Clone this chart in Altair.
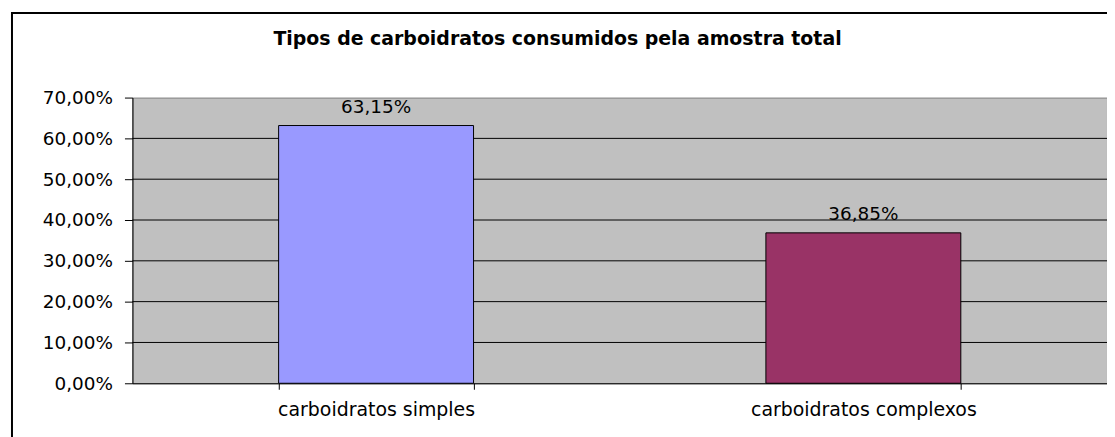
import altair as alt
import pandas as pd

categories = ["carboidratos simples", "carboidratos complexos"]
values = [0.6315, 0.3685]
bar_colors = ["#9999FF", "#993366"]
grid_values = [0.1, 0.2, 0.3, 0.4, 0.5, 0.6]
y_ticks = [0.0, 0.1, 0.2, 0.3, 0.4, 0.5, 0.6, 0.7]
title_text = "Tipos de carboidratos consumidos pela amostra total"

W, H = 979, 287
FONT = "DejaVu Sans"

df = pd.DataFrame({"cat": categories, "val": values})
grid_df = pd.DataFrame({"g": grid_values})

x_enc = alt.X(
    "cat:N",
    sort=categories,
    scale=alt.Scale(paddingInner=0.6, paddingOuter=0.3),
    axis=alt.Axis(
        title=None, labelAngle=0, tickBand="extent", tickSize=6,
        tickColor="black", domainColor="black", labelFont=FONT,
        labelFontSize=19, labelColor="black", labelPadding=11, labelLimit=0,
    ),
)
y_enc = alt.Y(
    "val:Q",
    scale=alt.Scale(domain=[0, 0.7], nice=False),
    axis=alt.Axis(
        title=None, values=y_ticks, grid=False, tickSize=8,
        tickColor="black", domainColor="black", labelFont=FONT,
        labelFontSize=18.5, labelColor="black", labelPadding=12,
        labelExpr="replace(format(datum.value, '.2%'), '.', ',')",
    ),
)

grid = alt.Chart(grid_df).mark_rule(color="black", strokeWidth=1).encode(
    y=alt.Y("g:Q", scale=alt.Scale(domain=[0, 0.7], nice=False))
)

bars = alt.Chart(df).mark_bar(stroke="black", strokeWidth=1).encode(
    x=x_enc,
    y=y_enc,
    color=alt.Color("cat:N", scale=alt.Scale(domain=categories, range=bar_colors), legend=None),
)

labels = alt.Chart(df).transform_calculate(
    lbl="replace(format(datum.val, '.2%'), '.', ',')"
).mark_text(
    font=FONT, fontSize=18.5, color="black", baseline="bottom", dy=-9
).encode(
    x=alt.X("cat:N", sort=categories),
    y=alt.Y("val:Q"),
    text="lbl:N",
)

title = alt.Chart(pd.DataFrame({"t": [title_text]})).mark_text(
    font=FONT, fontSize=19, fontWeight="bold", color="black",
    align="center", baseline="middle",
).encode(
    x=alt.value(427), y=alt.value(-59), text="t:N",
)

frame = alt.Chart(pd.DataFrame({"f": [0]})).mark_rect(
    fill=None, stroke="black", strokeWidth=2
).encode(
    x=alt.value(-121), x2=alt.value(W + 30),
    y=alt.value(-85), y2=alt.value(H + 80),
)

chart = alt.layer(grid, bars, labels, title, frame).properties(
    width=W,
    height=H,
    background="white",
    autosize=alt.AutoSizeParams(type="none"),
    padding={"left": 125, "top": 89, "right": 0, "bottom": 53},
).configure_view(
    fill="#C0C0C0", stroke="#808080", strokeWidth=1
)

chart.save("out.html", embed_options={"renderer": "svg", "actions": False})
